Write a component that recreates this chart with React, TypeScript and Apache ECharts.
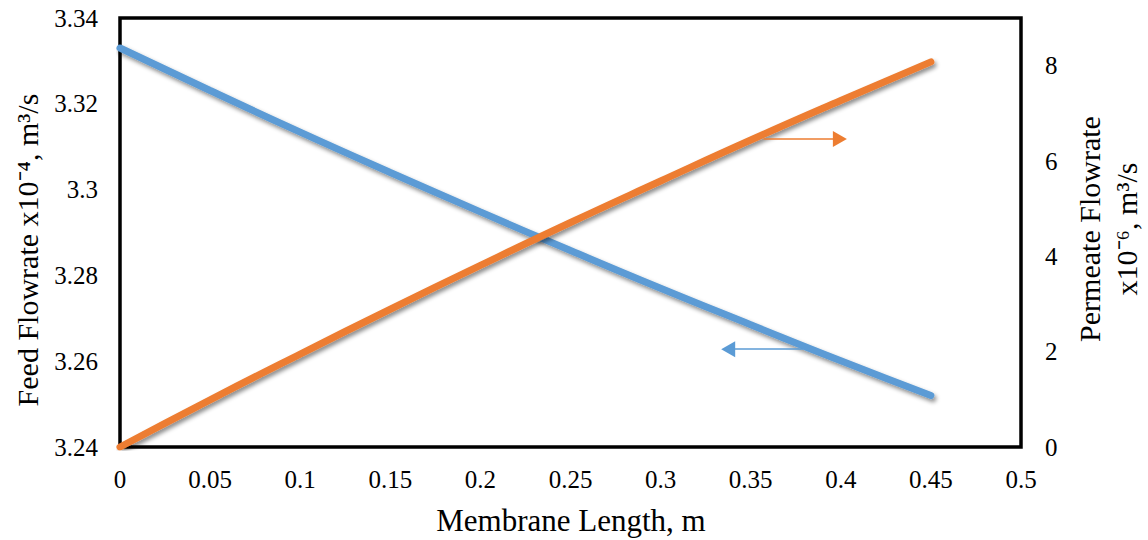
import React, { useEffect, useRef } from "react";
import * as echarts from "echarts";

const xValues = [0, 0.05, 0.1, 0.15, 0.2, 0.25, 0.3, 0.35, 0.4, 0.45];
const feedFlow = [3.333, 3.3231, 3.3134, 3.304, 3.2948, 3.2858, 3.277, 3.2685, 3.2601, 3.252];
const permeateFlow = [0, 0.99, 1.95, 2.89, 3.81, 4.71, 5.58, 6.44, 7.27, 8.08];

const xTitle = "Membrane Length, m";
const leftTitle = "Feed Flowrate x10\u207B\u2074, m\u00B3/s";
const rightTitle = "Permeate Flowrate\nx10\u207B\u2076, m\u00B3/s";

// arrow annotations (data coordinates)
const permeateArrow = [[0.357, 6.46], [0.3995, 6.46]];
const feedArrow = [[0.379, 3.2628], [0.3375, 3.2628]];

const FONT = "'Liberation Serif', 'Times New Roman', serif";
const BLUE = "#5B9BD5";
const ORANGE = "#ED7D31";

export default function App() {
  const ref = useRef<HTMLDivElement>(null);
  useEffect(() => {
    if (!ref.current) return;
    const chart = echarts.init(ref.current, undefined, { renderer: "svg" });
    const labelStyle = { fontSize: 25, color: "#000", fontFamily: FONT };
    chart.setOption({
      animation: false,
      backgroundColor: "#fff",
      grid: {
        left: 120,
        right: 127,
        top: 18,
        bottom: 93,
        show: true,
        borderColor: "#000",
        borderWidth: 3.5,
        backgroundColor: "transparent",
      },
      xAxis: {
        type: "value",
        min: 0,
        max: 0.5,
        interval: 0.05,
        axisLine: { show: false },
        axisTick: { show: false },
        splitLine: { show: false },
        axisLabel: { ...labelStyle, margin: 20 },
      },
      yAxis: [
        {
          type: "value",
          min: 3.24,
          max: 3.34,
          interval: 0.02,
          axisLine: { show: false },
          axisTick: { show: false },
          splitLine: { show: false },
          axisLabel: { ...labelStyle, margin: 22 },
        },
        {
          type: "value",
          position: "right",
          min: 0,
          max: 9,
          interval: 2,
          axisLine: { show: false },
          axisTick: { show: false },
          splitLine: { show: false },
          axisLabel: {
            ...labelStyle,
            margin: 24,
            formatter: (v: number) => (v === 9 ? "" : String(v)),
          },
        },
      ],
      series: [
        {
          type: "line",
          name: "Feed",
          yAxisIndex: 0,
          data: xValues.map((x, i) => [x, feedFlow[i]]),
          showSymbol: false,
          smooth: true,
          lineStyle: {
            color: BLUE,
            width: 7,
            cap: "round",
            shadowColor: "rgba(0,0,0,0.45)",
            shadowBlur: 4,
            shadowOffsetX: 2,
            shadowOffsetY: 3,
          },
          markLine: {
            silent: true,
            symbol: ["none", "triangle"],
            symbolSize: [16, 14],
            label: { show: false },
            lineStyle: { color: BLUE, width: 1.5, type: "solid" },
            data: [[{ coord: feedArrow[0] }, { coord: feedArrow[1] }]],
          },
        },
        {
          type: "line",
          name: "Permeate",
          yAxisIndex: 1,
          data: xValues.map((x, i) => [x, permeateFlow[i]]),
          showSymbol: false,
          smooth: true,
          lineStyle: {
            color: ORANGE,
            width: 7,
            cap: "round",
            shadowColor: "rgba(0,0,0,0.45)",
            shadowBlur: 4,
            shadowOffsetX: 2,
            shadowOffsetY: 3,
          },
          markLine: {
            silent: true,
            symbol: ["none", "triangle"],
            symbolSize: [16, 14],
            label: { show: false },
            lineStyle: { color: ORANGE, width: 1.5, type: "solid" },
            data: [[{ coord: permeateArrow[0] }, { coord: permeateArrow[1] }]],
          },
        },
      ],
      graphic: [
        {
          type: "text",
          x: 571,
          y: 520,
          style: {
            text: xTitle,
            fontSize: 31,
            fontFamily: FONT,
            fill: "#000",
            align: "center",
            verticalAlign: "middle",
          },
        },
        {
          type: "text",
          x: 27,
          y: 250,
          rotation: Math.PI / 2,
          style: {
            text: leftTitle,
            fontSize: 30,
            fontFamily: FONT,
            fill: "#000",
            align: "center",
            verticalAlign: "middle",
          },
        },
        {
          type: "text",
          x: 1108,
          y: 229,
          rotation: Math.PI / 2,
          style: {
            text: rightTitle,
            fontSize: 30,
            lineHeight: 37,
            fontFamily: FONT,
            fill: "#000",
            align: "center",
            verticalAlign: "middle",
          },
        },
      ],
    });
    return () => chart.dispose();
  }, []);
  return <div ref={ref} style={{ width: 1148, height: 540, position: "absolute", left: 0, top: 0 }} />;
}
